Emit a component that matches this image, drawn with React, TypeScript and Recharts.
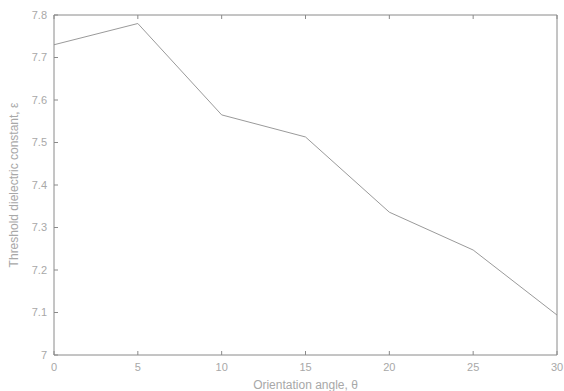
import { LineChart, Line, XAxis, YAxis } from 'recharts'

const angles = [0, 5, 10, 15, 20, 25, 30]
const threshold = [7.73, 7.78, 7.565, 7.513, 7.336, 7.247, 7.094]
const xTicks = [0, 5, 10, 15, 20, 25, 30]
const yTicks = [7, 7.1, 7.2, 7.3, 7.4, 7.5, 7.6, 7.7, 7.8]

const data = angles.map((a, i) => ({ angle: a, eps: threshold[i] }))

const axisColor = '#8a8a8a'
const textColor = '#a8a8a8'
const font = '"Liberation Sans", Arial, sans-serif'

export default function App() {
  return (
    <div style={{ position: 'absolute', left: 0, top: 0, width: 564, height: 391, background: '#fff' }}>
      <LineChart
        width={564}
        height={391}
        data={data}
        margin={{ top: 14, right: 6, left: 0, bottom: 0 }}
        style={{ fontFamily: font }}
      >
        <XAxis
          xAxisId="bottom"
          dataKey="angle"
          type="number"
          domain={[0, 30]}
          ticks={xTicks}
          height={36}
          tickSize={-4}
          tickMargin={12}
          stroke={axisColor}
          tick={{ fontSize: 11, fill: textColor }}
          label={{
            value: 'Orientation angle, θ',
            position: 'insideBottom',
            offset: 2,
            style: { fontSize: 12, fill: textColor },
          }}
        />
        <XAxis
          xAxisId="top"
          dataKey="angle"
          type="number"
          orientation="top"
          domain={[0, 30]}
          ticks={xTicks}
          height={1}
          tickSize={-4}
          stroke={axisColor}
          tickFormatter={() => ''}
        />
        <YAxis
          yAxisId="left"
          type="number"
          domain={[7, 7.8]}
          ticks={yTicks}
          width={54}
          tickSize={-4}
          tickMargin={11}
          stroke={axisColor}
          tickFormatter={(v: number) => (v === 7 ? '7' : v.toFixed(1))}
          tick={{ fontSize: 11, fill: textColor }}
          label={{
            value: 'Threshold dielectric constant, ε',
            angle: -90,
            position: 'insideLeft',
            offset: 14,
            style: { fontSize: 12, fill: textColor, textAnchor: 'middle' },
          }}
        />
        <YAxis
          yAxisId="right"
          orientation="right"
          type="number"
          domain={[7, 7.8]}
          ticks={yTicks}
          width={1}
          tickSize={-4}
          stroke={axisColor}
          tickFormatter={() => ''}
        />
        <Line
          xAxisId="bottom"
          yAxisId="left"
          type="linear"
          dataKey="eps"
          stroke="#9a9a9a"
          strokeWidth={1}
          dot={false}
          isAnimationActive={false}
        />
      </LineChart>
    </div>
  )
}
